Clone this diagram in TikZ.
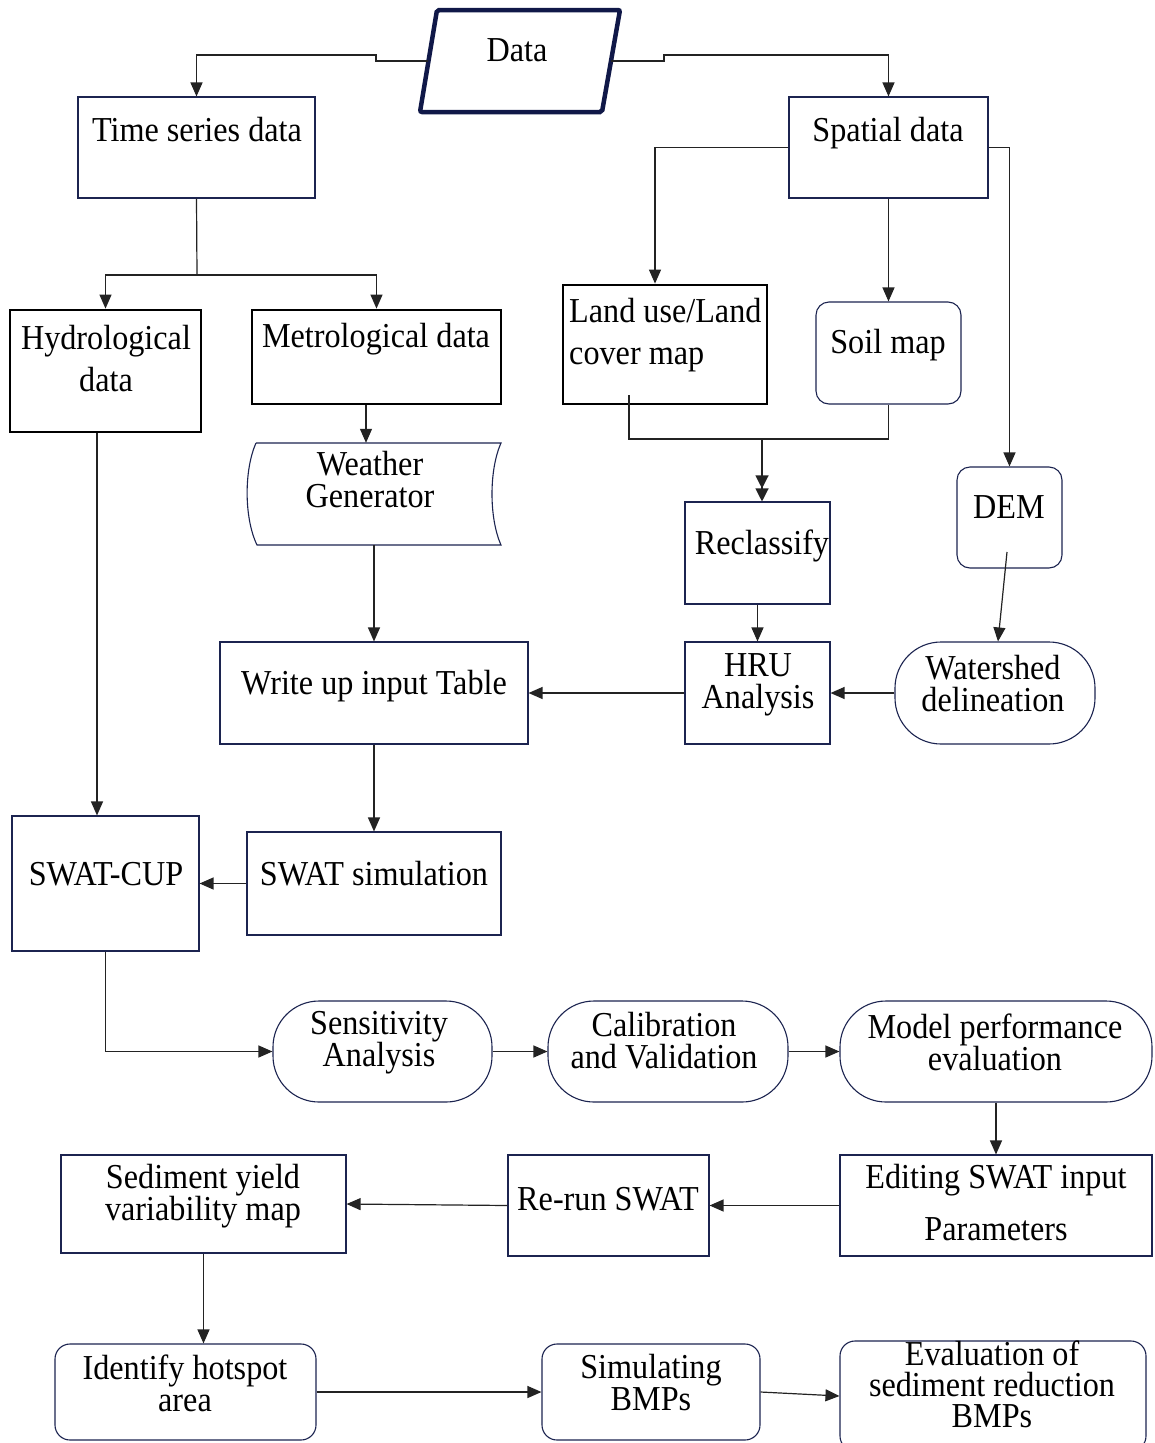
\documentclass[tikz,border=0pt]{standalone}
\usepackage{fontspec}
\setmainfont[FakeStretch=0.92]{Liberation Serif}
\usetikzlibrary{arrows.meta}
\definecolor{navy}{RGB}{28,36,80}
\definecolor{dnavy}{RGB}{16,24,72}
\definecolor{conn}{RGB}{35,35,35}
\tikzset{
  bx/.style={draw=navy,line width=1.1pt,rectangle,inner sep=0pt},
  thickbx/.style={draw=black,line width=2.8pt,rectangle,inner sep=0pt},
  rbx/.style={draw=navy,line width=1.1pt,rectangle,rounded corners=13pt,inner sep=0pt},
  stad/.style={draw=navy,line width=1.1pt,rectangle,rounded corners=46pt,inner sep=0pt},
  txt/.style={inner sep=0pt,align=center,font=\fontsize{35}{32}\selectfont},
  ln/.style={draw=conn,line width=1.2pt},
  arr/.style={ln,-{Triangle[length=14pt,width=12pt]}},
  dbl/.style={ln,-{Triangle[length=13pt,width=13pt]Triangle[length=13pt,width=13pt]}}
}
\begin{document}
\begin{tikzpicture}[x=1pt,y=-1pt]
\useasboundingbox (0,0) rectangle (1154,1443);
\fill[white] (0,0) rectangle (1154,1443);
% Data parallelogram
\draw[draw=dnavy,line width=4.5pt,rounded corners=2pt] (437,10) -- (620,10) -- (602,112) -- (420,112) -- cycle;
\node[txt] (tdata) at (517,50) {Data};
\coordinate (dl) at (428,61);
\coordinate (dr) at (611,61);
% boxes
\node[bx,minimum width=237pt,minimum height=101pt] (ts) at (196.5,147.5) {};
\node[bx,minimum width=199pt,minimum height=101pt] (sp) at (888.5,147.5) {};
\node[thickbx,minimum width=191pt,minimum height=122pt] (hy) at (105.5,371) {};
\node[thickbx,minimum width=249pt,minimum height=94pt] (me) at (376.5,357) {};
\node[thickbx,minimum width=204pt,minimum height=119pt] (lu) at (665,344.5) {};
\node[rbx,minimum width=145pt,minimum height=102pt] (so) at (888.5,353) {};
\node[bx,minimum width=145pt,minimum height=102pt] (rc) at (757.5,553) {};
\node[bx,minimum width=145pt,minimum height=102pt] (hru) at (757.5,693) {};
\node[rbx,minimum width=105pt,minimum height=101pt] (dem) at (1009.5,517.5) {};
\node[stad,minimum width=200pt,minimum height=102pt] (ws) at (995,693) {};
\node[inner sep=0pt,minimum width=254pt,minimum height=102pt] (wg) at (374,494) {};
\draw[draw=navy,line width=1.1pt] (256,443) -- (501,443) .. controls (489,470) and (489,518) .. (501,545) -- (257,545) .. controls (244,518) and (244,470) .. (256,443);
\node[bx,minimum width=308pt,minimum height=102pt] (wt) at (374,693) {};
\node[bx,minimum width=254pt,minimum height=103pt] (ss) at (374,883.5) {};
\node[bx,minimum width=187pt,minimum height=135pt] (cup) at (105.5,883.5) {};
\node[stad,minimum width=219pt,minimum height=101pt] (sa) at (382.5,1051.5) {};
\node[stad,minimum width=240pt,minimum height=101pt] (cv) at (668,1051.5) {};
\node[stad,minimum width=312pt,minimum height=101pt] (mp) at (996,1051.5) {};
\node[bx,minimum width=312pt,minimum height=101pt] (ed) at (996,1205.5) {};
\node[bx,minimum width=201pt,minimum height=101pt] (rr) at (608.5,1205.5) {};
\node[bx,minimum width=285pt,minimum height=98pt] (sy) at (203.5,1204) {};
\node[rbx,rounded corners=15pt,minimum width=261pt,minimum height=96pt] (ih) at (185.5,1392) {};
\node[rbx,rounded corners=15pt,minimum width=218pt,minimum height=96pt] (sb) at (651,1392) {};
\node[rbx,rounded corners=15pt,minimum width=306pt,minimum height=110pt] (ev) at (993,1396) {};
% texts
\node[txt] (tts) at (197,130) {Time series data};
\node[txt] (tsp) at (888,133) {Spatial data};
\node[txt] (thy) at (106,359) {Hydrological\\[10pt]data};
\node[txt] (tme) at (376,339) {Metrological data};
\node[txt,align=left,anchor=west] (tlu) at (569,335) {Land use/Land\\[10pt]cover map};
\node[txt] (tso) at (888,345) {Soil map};
\node[txt] (trc) at (762,546) {Reclassify};
\node[txt] (thru) at (758,685) {HRU\\Analysis};
\node[txt] (tdem) at (1009,507) {DEM};
\node[txt] (tws) at (993,684) {Watershed\\delineation};
\node[txt] (twg) at (370,480) {Weather\\Generator};
\node[txt] (twt) at (374,686) {Write up input Table};
\node[txt] (tss) at (374,874) {SWAT simulation};
\node[txt] (tcup) at (106,874) {SWAT-CUP};
\node[txt] (tsa) at (379,1043) {Sensitivity\\Analysis};
\node[txt] (tcv) at (664,1041) {Calibration\\and Validation};
\node[txt] (tmp) at (995,1042) {Model performance\\evaluation};
\node[txt] (ted) at (996,1203) {Editing SWAT input\\[20pt]Parameters};
\node[txt] (trr) at (608,1199) {Re-run SWAT};
\node[txt] (tsy) at (203,1196) {Sediment yield\\variability map};
\node[txt] (tih) at (185,1383) {Identify hotspot\\area};
\node[txt] (tsb) at (651,1383) {Simulating\\BMPs};
\node[txt,font=\fontsize{35}{31}\selectfont] (tev) at (992,1384) {Evaluation of\\sediment reduction\\BMPs};
% connectors
\draw[arr] (dl) -- (376,61) -- (376,55) -| (ts.north);
\draw[arr] (dr) -- (664,61) -- (664,55) -| (sp.north);
\coordinate (j1) at (197,275);
\draw[ln] (ts.south) -- (j1);
\draw[arr] (j1) -| (hy.north);
\draw[arr] (j1) -| (me.north);
\draw[arr] (sp.west) -| ([xshift=-10pt]lu.north);
\draw[arr] (sp.south) -- (so.north);
\draw[arr] (sp.east) -| (dem.north);
\coordinate (luin) at (629,395);
\coordinate (m2) at (762,439);
\draw[ln] (luin) |- (m2) -| (so.south);
\draw[dbl] (m2) -- (m2 |- rc.north);
\draw[arr] (rc.south) -- (hru.north);
\coordinate (demin) at (1007,552);
\draw[arr] (demin) -- ([xshift=3pt]ws.north);
\draw[arr] (ws.west) -- (hru.east);
\draw[arr] (hru.west) -- (wt.east);
\draw[arr] ([xshift=-10.5pt]me.south) -- ([xshift=-8pt]wg.north);
\draw[arr] (wg.south) -- (wt.north);
\draw[arr] (wt.south) -- (ss.north);
\draw[arr] ([xshift=-8.5pt]hy.south) -- ([xshift=-8.5pt]cup.north);
\draw[arr] (ss.west) -- (cup.east);
\draw[arr] (cup.south) |- (sa.west);
\draw[arr] (sa.east) -- (cv.west);
\draw[arr] (cv.east) -- (mp.west);
\draw[arr] (mp.south) -- (ed.north);
\draw[arr] (ed.west) -- (rr.east);
\draw[arr] (rr.west) -- (sy.east);
\draw[arr] (sy.south) -- (sy.south |- ih.north);
\draw[arr] (ih.east) -- (sb.west);
\draw[arr] (sb.east) -- (ev.west);
\end{tikzpicture}
\end{document}
